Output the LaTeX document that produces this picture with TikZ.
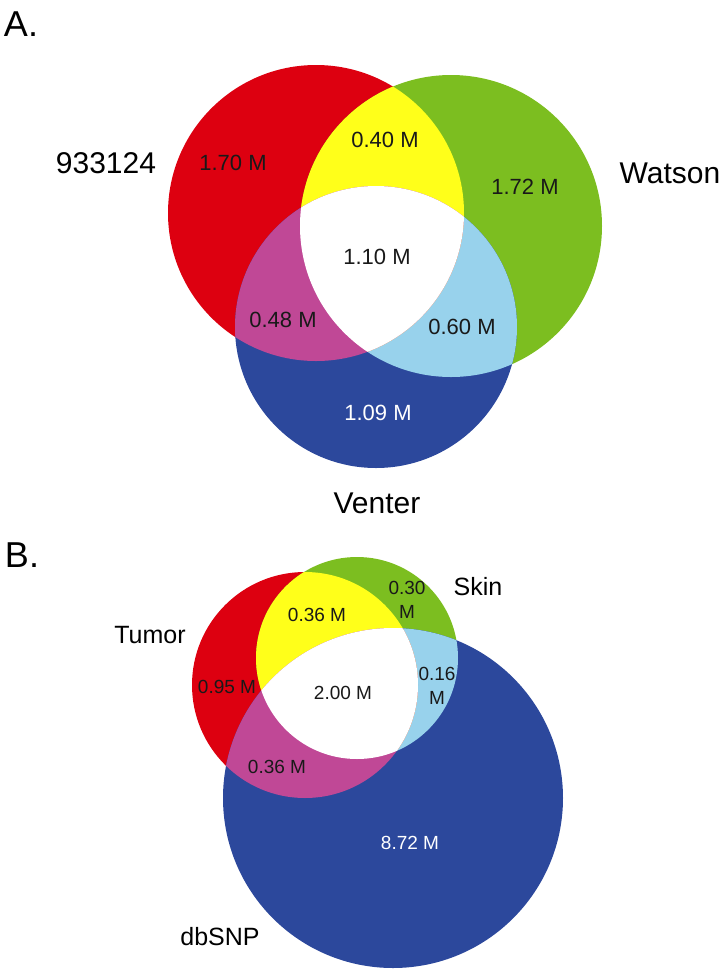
\documentclass[tikz,border=0pt]{standalone}
\usepackage{fontspec}
\setmainfont{Liberation Sans}
\usepackage{xcolor}

\definecolor{vred}{RGB}{221,0,16}
\definecolor{vyellow}{RGB}{255,255,26}
\definecolor{vgreen}{RGB}{124,190,32}
\definecolor{vblue}{RGB}{44,72,156}
\definecolor{vmagenta}{RGB}{192,72,150}
\definecolor{vcyan}{RGB}{152,210,236}

\begin{document}
\begin{tikzpicture}[
x=0.5pt, 
y=-0.5pt, 
inner sep=0pt, 
panel/.style={font=\fontsize{18}{20}\selectfont}, 
setname/.style={font=\fontsize{15}{17}\selectfont}, 
setnameb/.style={font=\fontsize{12.5}{14}\selectfont}, 
numa/.style={font=\fontsize{11}{13}\selectfont, text=black!90}, 
numb/.style={font=\fontsize{9.5}{12}\selectfont, text=black!90, align=center}]
\useasboundingbox (0,0) rectangle (724,976);

% panel A
\coordinate (ra) at (316,213);
\coordinate (ga) at (451,226);
\coordinate (ba) at (376,327);
\fill[vred] (ra) circle[radius=74pt];
\fill[vgreen] (ga) circle[radius=75.5pt];
\fill[vblue] (ba) circle[radius=70.5pt];
\begin{scope}
\clip (ga) circle[radius=75.5pt];
\fill[vcyan] (ba) circle[radius=70.5pt];
\end{scope}
\begin{scope}
\clip (ra) circle[radius=74pt];
\fill[vyellow] (ga) circle[radius=75.5pt];
\fill[vmagenta] (ba) circle[radius=70.5pt];
\clip (ga) circle[radius=75.5pt];
\fill[white] (ba) circle[radius=70.5pt];
\end{scope}

\node[panel] (pa) at (21,24) {A.};
\node[setname] (tumA) at (106,163) {933124};
\node[setname] (watson) at (670,173) {Watson};
\node[setname] (venter) at (377,503) {Venter};

\node[numa] (ra1) at (233,163) {1.70 M};
\node[numa] (rg1) at (385,140) {0.40 M};
\node[numa] (ga1) at (525,187) {1.72 M};
\node[numa] (all1) at (377,257) {1.10 M};
\node[numa] (rb1) at (283,320) {0.48 M};
\node[numa] (gb1) at (462,327) {0.60 M};
\node[numa, text=white] (ba1) at (378,413) {1.09 M};

% panel B
\coordinate (rb) at (305,685);
\coordinate (gb) at (357,658);
\coordinate (bb) at (393,798);
\fill[vred] (rb) circle[radius=56.5pt];
\fill[vgreen] (gb) circle[radius=50.5pt];
\fill[vblue] (bb) circle[radius=85pt];
\begin{scope}
\clip (gb) circle[radius=50.5pt];
\fill[vcyan] (bb) circle[radius=85pt];
\end{scope}
\begin{scope}
\clip (rb) circle[radius=56.5pt];
\fill[vyellow] (gb) circle[radius=50.5pt];
\fill[vmagenta] (bb) circle[radius=85pt];
\clip (gb) circle[radius=50.5pt];
\fill[white] (bb) circle[radius=85pt];
\end{scope}

\node[panel] (pb) at (22,555) {B.};
\node[setnameb] (tumor) at (150,635) {Tumor};
\node[setnameb] (skin) at (478,587) {Skin};
\node[setnameb] (dbsnp) at (220,937) {dbSNP};

\node[numb] (rg2) at (317,615) {0.36 M};
\node[numb] (g2) at (407,600) {0.30\\M};
\node[numb] (r2) at (227,687) {0.95 M};
\node[numb] (all2) at (343,693) {2.00 M};
\node[numb] (gb2) at (437,686) {0.16\\M};
\node[numb] (rb2) at (277,767) {0.36 M};
\node[numb, text=white] (b2) at (410,843) {8.72 M};
\end{tikzpicture}
\end{document}
